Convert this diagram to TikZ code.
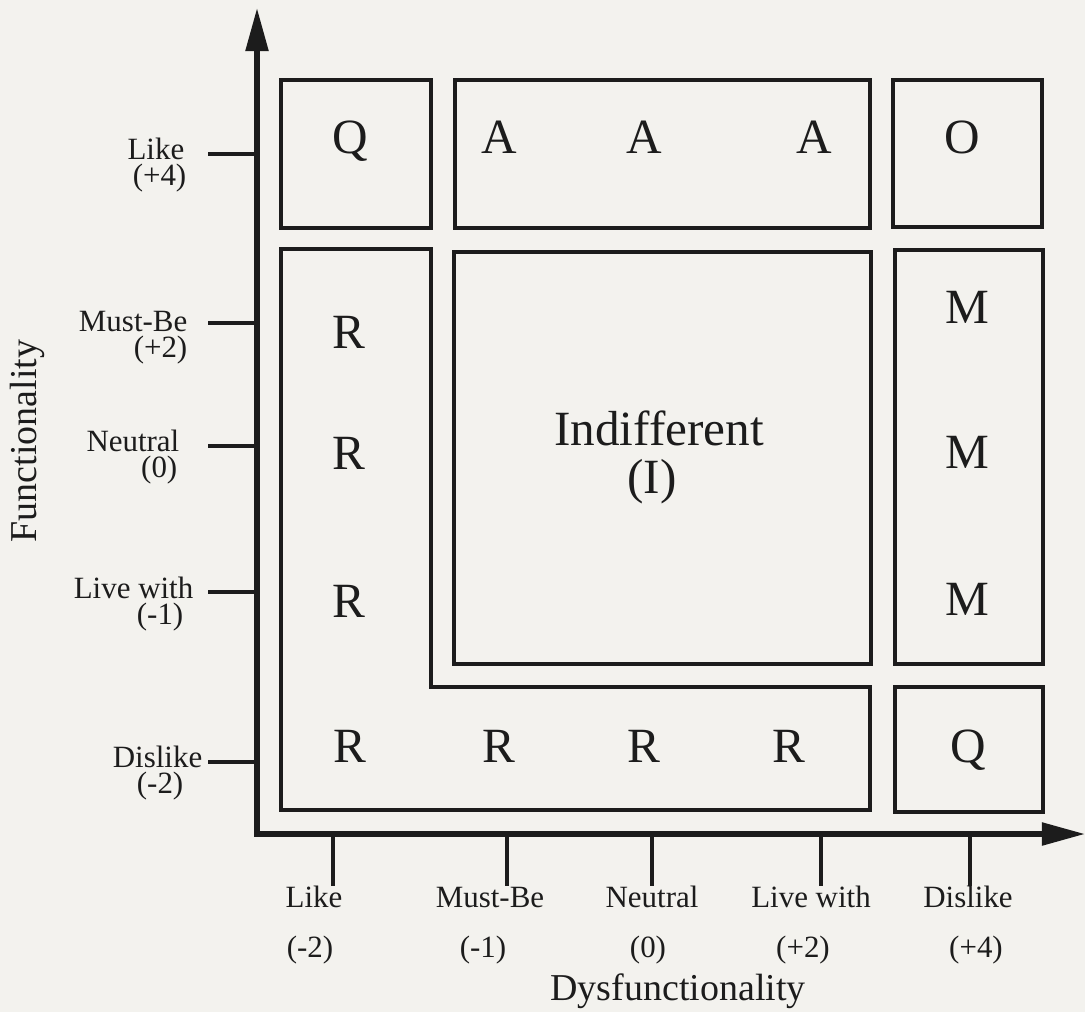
\documentclass[tikz,border=0pt]{standalone}
\usepackage{fontspec}
\setmainfont{Liberation Serif}
\usetikzlibrary{arrows.meta}
\definecolor{paper}{HTML}{F3F2EE}
\definecolor{ink}{HTML}{1C1C1C}
\tikzset{
  >={Triangle[length=4.3mm,width=2.2mm]},
  axisline/.style={draw=ink, line width=1.5pt, <->},
  tickline/.style={draw=ink, line width=0.9pt},
  cellbox/.style={draw=ink, line width=0.95pt, inner sep=0pt},
  catletter/.style={font=\fontsize{14}{13.6}\selectfont, text=ink, inner sep=0pt, anchor=base},
  levellabel/.style={font=\fontsize{8.8}{10}\selectfont, text=ink, inner sep=0pt},
  axistitle/.style={font=\fontsize{10.8}{12}\selectfont, text=ink, inner sep=0pt, anchor=base},
}
\begin{document}
\begin{tikzpicture}[x=0.01cm, y=-0.01cm, line join=miter]
  \path[use as bounding box, fill=paper] (0,0) rectangle (1085,1012);

  % axes
  \coordinate (origin) at (257,834);
  \coordinate (ytip) at (257,8);
  \coordinate (xtip) at (1085,834);
  \draw[axisline] (ytip) -- (origin) -- (xtip);

  \foreach \y in {154,323,446,592,762}
    \draw[tickline] (208,\y) -- (257,\y);
  \foreach \x in {333,507,652,821,970}
    \draw[tickline] (\x,834) -- (\x,886);

  % category boxes
  \node[cellbox, minimum width=1.50cm, minimum height=1.48cm] (qtop) at (356,154) {};
  \node[cellbox, minimum width=4.15cm, minimum height=1.48cm] (abox) at (662.5,154) {};
  \node[cellbox, minimum width=1.49cm, minimum height=1.47cm] (obox) at (967.5,153.5) {};
  \node[cellbox, minimum width=4.17cm, minimum height=4.12cm] (ibox) at (662.5,458) {};
  \node[cellbox, minimum width=1.48cm, minimum height=4.14cm] (mbox) at (969,457) {};
  \node[cellbox, minimum width=1.48cm, minimum height=1.25cm] (qbot) at (969,749.5) {};
  \draw[cellbox] (281,249) -- (431,249) -- (431,687) -- (870,687) -- (870,810) -- (281,810) -- cycle;

  \foreach \x/\y/\t [count=\i] in {350/153/Q, 499/153/A, 644/153/A, 814/153/A, 962/153/O,
      349/348/R, 349/469/R, 349/617/R, 967/323/M, 967/468/M, 967/615/M,
      350/762/R, 499/762/R, 644/762/R, 789/762/R, 968/762/Q}
    \node[catletter] (cat-\i) at (\x,\y) {\t};

  \node[catletter] (indiff) at (659,445) {Indifferent};
  \node[catletter] (indiffcode) at (652,493) {(I)};

  % functionality levels
  \foreach \ya/\wa/\xa/\wb/\xb [count=\i] in {159/Like/185/(+4)/187, 331/Must-Be/188/(+2)/188,
      451/Neutral/180/(0)/178, 598/Live with/194/(-1)/184, 767/Dislike/203/(-2)/184} {
    \node[levellabel, anchor=base east] (flev-\i) at (\xa,\ya) {\wa};
    \node[levellabel, anchor=base east] (fval-\i) at (\xb,\ya+26) {\wb};
  }

  % dysfunctionality levels
  \foreach \xa/\wa/\xb/\wb [count=\i] in {314/Like/310/(-2), 490/Must-Be/483/(-1),
      652/Neutral/648/(0), 811/Live with/803/(+2), 968/Dislike/976/(+4)} {
    \node[levellabel, anchor=base] (dlev-\i) at (\xa,907) {\wa};
    \node[levellabel, anchor=base] (dval-\i) at (\xb,957) {\wb};
  }

  \node[axistitle, rotate=90] (ftitle) at (37,441) {Functionality};
  \node[axistitle] (dtitle) at (678,1000) {Dysfunctionality};
\end{tikzpicture}
\end{document}
